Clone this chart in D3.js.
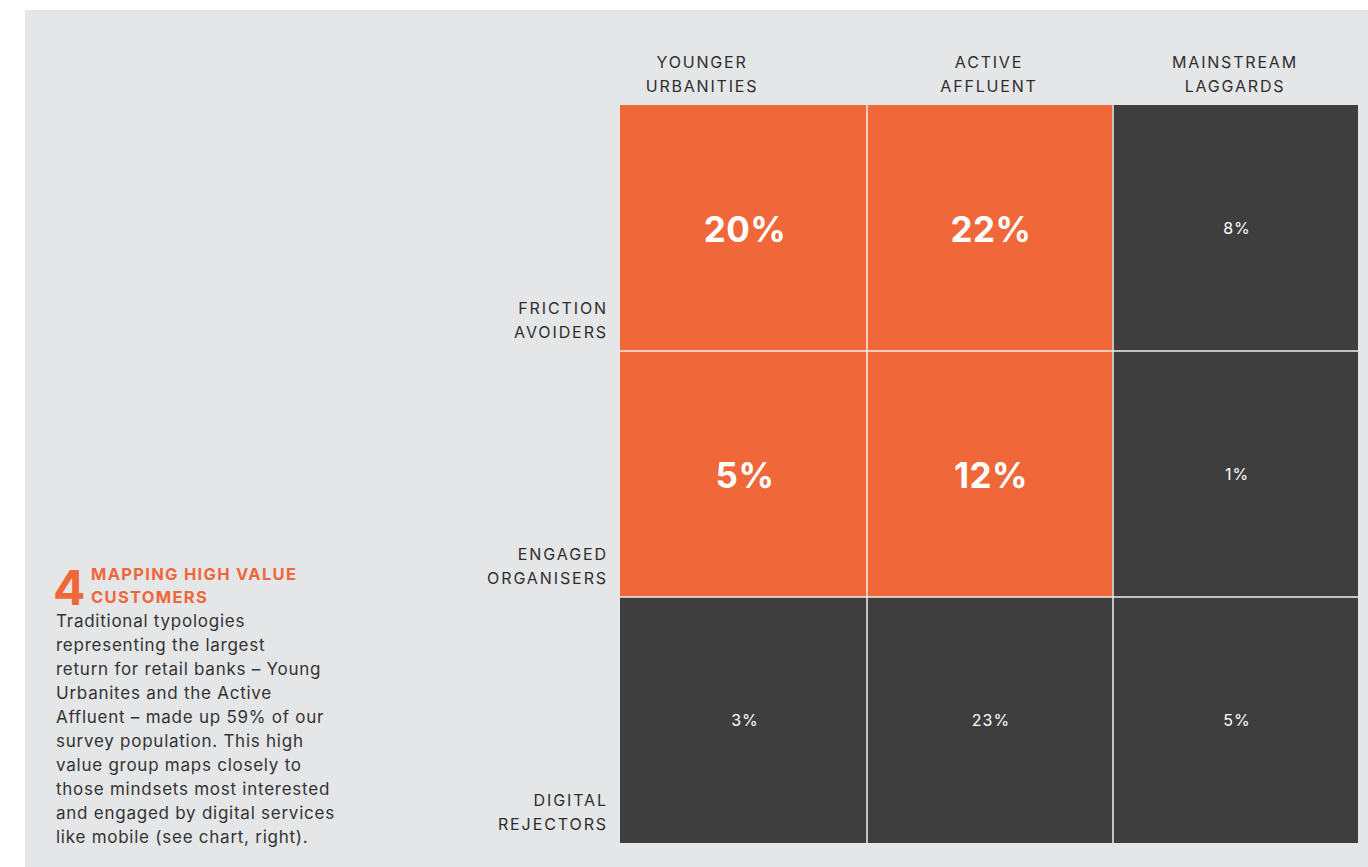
<!DOCTYPE html>
<html>
<head>
<meta charset="utf-8">
<script src="https://cdn.jsdelivr.net/npm/d3@7"></script>
<style>
  body { margin: 0; background: #ffffff; }
  svg { display: block; }
  text { font-family: "Inter", "Noto Sans", sans-serif; }
</style>
</head>
<body>
<svg id="chart"></svg>
<script>
const columns = ["YOUNGER URBANITIES", "ACTIVE AFFLUENT", "MAINSTREAM LAGGARDS"]
const rows = ["FRICTION AVOIDERS", "ENGAGED ORGANISERS", "DIGITAL REJECTORS"]
// values[row][col], in percent
const values = [
  [20, 22, 8],
  [5, 12, 1],
  [3, 23, 5]
]
// cells that belong to the high value group
const highValue = [
  [true, true, false],
  [true, true, false],
  [false, false, false]
]
const noteNumber = "4"
const noteTitle = ["MAPPING HIGH VALUE", "CUSTOMERS"]
const noteBody = [
  "Traditional typologies",
  "representing the largest",
  "return for retail banks – Young",
  "Urbanites and the Active",
  "Affluent – made up 59% of our",
  "survey population. This high",
  "value group maps closely to",
  "those mindsets most interested",
  "and engaged by digital services",
  "like mobile (see chart, right)."
]

const W = 1368, H = 867
const orange = "#f0673a"
const dark = "#3e3e3e"
const bg = "#e5e6e8"

const svg = d3.select("#chart").attr("width", W).attr("height", H)

// grey panel
svg.append("rect")
  .attr("x", 25).attr("y", 10)
  .attr("width", W - 25).attr("height", H - 10)
  .attr("fill", bg)

const x = d3.scaleBand().domain(columns).range([620, 1358])
const y = d3.scaleBand().domain(rows).range([105, 843])

const cells = []
rows.forEach(function (r, i) {
  columns.forEach(function (c, j) {
    cells.push({ row: r, col: c, value: values[i][j], hi: highValue[i][j] })
  })
})

const g = svg.append("g")

g.selectAll("rect.cell")
  .data(cells)
  .enter()
  .append("rect")
  .attr("class", "cell")
  .attr("x", function (d) { return x(d.col) })
  .attr("y", function (d) { return y(d.row) })
  .attr("width", x.bandwidth())
  .attr("height", y.bandwidth())
  .attr("fill", function (d) { return d.hi ? orange : dark })

// thin separators between cells
g.selectAll("line.vsep")
  .data(columns.slice(1))
  .enter()
  .append("line")
  .attr("x1", function (d) { return x(d) + 1 }).attr("x2", function (d) { return x(d) + 1 })
  .attr("y1", y.range()[0]).attr("y2", y.range()[1])
  .attr("stroke", "#f2eeec").attr("stroke-width", 1.5)

g.selectAll("line.hsep")
  .data(rows.slice(1))
  .enter()
  .append("line")
  .attr("y1", function (d) { return y(d) }).attr("y2", function (d) { return y(d) })
  .attr("x1", x.range()[0]).attr("x2", x.range()[1])
  .attr("stroke", "#f2eeec").attr("stroke-width", 1.5)

// values
g.selectAll("text.val")
  .data(cells)
  .enter()
  .append("text")
  .attr("class", "val")
  .attr("x", function (d) { return x(d.col) + x.bandwidth() / 2 + 2 })
  .attr("y", function (d) { return y(d.row) + y.bandwidth() / 2 + (d.hi ? 4 : 2) })
  .attr("text-anchor", "middle")
  .attr("dominant-baseline", "middle")
  .attr("fill", "#ffffff")
  .attr("font-size", function (d) { return d.hi ? 35 : 16 })
  .attr("font-weight", function (d) { return d.hi ? 700 : 400 })
  .attr("letter-spacing", function (d) { return d.hi ? 0.5 : 1 })
  .text(function (d) { return d.value + "%" })

// column headers (the first one sits a little left of its column in the original)
const colHead = svg.append("g").selectAll("text")
  .data(columns)
  .enter()
  .append("text")
  .attr("text-anchor", "middle")
  .attr("fill", "#2e2e2e")
  .attr("font-size", 16)
  .attr("letter-spacing", 1.8)
colHead.each(function (d, j) {
  const words = d.split(" ")
  const t = d3.select(this)
  const cx = x(d) + x.bandwidth() / 2 + (j === 0 ? -41 : 0)
  words.forEach(function (w, i) {
    t.append("tspan")
      .attr("x", cx)
      .attr("y", 68 + i * 24)
      .text(w)
  })
})

// row labels, bottom aligned
const rowHead = svg.append("g").selectAll("text")
  .data(rows)
  .enter()
  .append("text")
  .attr("text-anchor", "end")
  .attr("fill", "#2e2e2e")
  .attr("font-size", 16)
  .attr("letter-spacing", 1.9)
rowHead.each(function (d) {
  const words = d.split(" ")
  const t = d3.select(this)
  words.forEach(function (w, i) {
    t.append("tspan")
      .attr("x", 608)
      .attr("y", y(d) + y.bandwidth() - 37 + i * 24)
      .text(w)
  })
})

// side note
const note = svg.append("g")
note.append("text")
  .attr("x", 53).attr("y", 605)
  .attr("fill", orange)
  .attr("font-size", 48)
  .attr("font-weight", 700)
  .text(noteNumber)

note.selectAll("text.title")
  .data(noteTitle)
  .enter()
  .append("text")
  .attr("class", "title")
  .attr("x", 91)
  .attr("y", function (d, i) { return 580 + i * 23 })
  .attr("fill", orange)
  .attr("font-size", 16.5)
  .attr("font-weight", 700)
  .attr("letter-spacing", 1.3)
  .text(function (d) { return d })

note.selectAll("text.body")
  .data(noteBody)
  .enter()
  .append("text")
  .attr("class", "body")
  .attr("x", 56)
  .attr("y", function (d, i) { return 627 + i * 24 })
  .attr("fill", "#333333")
  .attr("font-size", 17)
  .attr("letter-spacing", 0.75)
  .text(function (d) { return d })
</script>
</body>
</html>
